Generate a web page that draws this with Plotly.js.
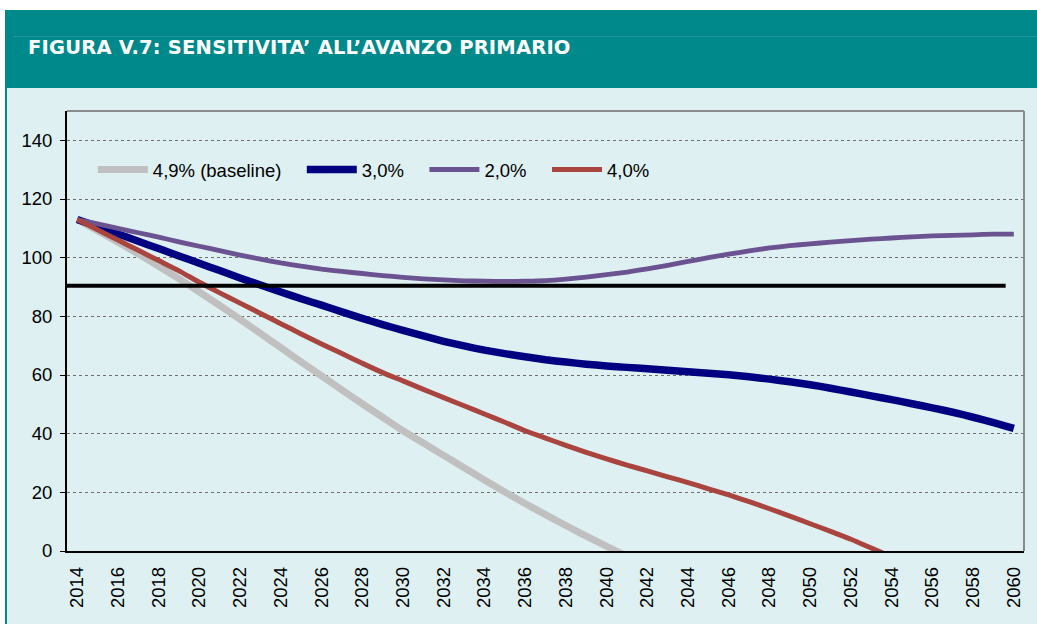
<!DOCTYPE html>
<html><head><meta charset="utf-8">
<script src="https://cdn.plot.ly/plotly-3.0.1.min.js"></script>
<style>
html,body{margin:0;padding:0;background:#fff;}
#wrap{position:relative;width:1037px;height:624px;overflow:hidden;background:#fff;}
#bg{position:absolute;left:5px;top:88px;width:1032px;height:536px;background:#DEF0F1;border-left:2px solid #00898B;box-sizing:border-box;}
#hdr{position:absolute;left:5px;top:10px;width:1032px;height:78px;background:#00898B;}
#hdrline{position:absolute;left:8px;top:26px;right:0;height:1px;background:rgba(255,255,255,0.12);}
#ttl{position:absolute;left:23px;top:27px;line-height:22px;color:#fff;font-family:'DejaVu Sans',sans-serif;font-weight:bold;font-size:19.5px;letter-spacing:0.2px;white-space:nowrap;}
#chart{position:absolute;left:0;top:0;width:1037px;height:624px;}
</style>
</head><body>
<div id="wrap">
  <div id="bg"></div>
  <div id="hdr"><div id="hdrline"></div><div id="ttl">FIGURA V.7: SENSITIVITA’ ALL’AVANZO PRIMARIO</div></div>
  <div id="chart"></div>
</div>
<script>
// ---- data ----
const years = [];
for (let y = 2014; y <= 2060; y++) years.push(y);

const seriesNames = ["4,9% (baseline)", "3,0%", "2,0%", "4,0%"];

const baseline49 = [113, 109.2, 105.3, 101.3, 97.1, 92.8, 88.3, 83.7, 79, 74.2,
  69.3, 64.5, 59.7, 54.9, 50.2, 45.6, 41, 36.8, 32.6, 28.4,
  24.2, 20.1, 16.2, 12.4, 8.7, 5.1, 1.6, -1.8];

const avanzo30 = [113, 110.6, 108.1, 105.6, 103.1, 100.6, 98.1, 95.6, 93.1, 90.7,
  88.3, 86, 83.8, 81.5, 79.3, 77.2, 75.2, 73.3, 71.5, 69.9,
  68.5, 67.3, 66.2, 65.2, 64.4, 63.7, 63.1, 62.6, 62.1, 61.6,
  61.1, 60.6, 60.1, 59.4, 58.6, 57.7, 56.7, 55.5, 54.2, 52.9,
  51.6, 50.2, 48.8, 47.3, 45.6, 43.8, 41.8];

const avanzo20 = [113, 111.5, 110, 108.5, 107, 105.4, 103.9, 102.4, 100.9, 99.5,
  98.2, 97.1, 96.1, 95.3, 94.6, 93.9, 93.3, 92.8, 92.4, 92.1,
  92, 91.9, 92, 92.2, 92.7, 93.4, 94.2, 95.1, 96.2, 97.4,
  98.7, 100, 101.2, 102.3, 103.3, 104.1, 104.7, 105.3, 105.8, 106.3,
  106.7, 107.1, 107.4, 107.6, 107.8, 108, 108];

const avanzo40 = [113, 109.5, 106, 102.5, 99, 95.5, 91.6, 88, 84.5, 81,
  77.5, 74, 70.6, 67.3, 64, 60.8, 58, 55.1, 52.3, 49.5,
  46.7, 43.9, 41, 38.5, 36, 33.6, 31.4, 29.3, 27.3, 25.3,
  23.3, 21.2, 19.1, 16.8, 14.4, 11.9, 9.3, 6.7, 4, 1, -2];

const soglia = 90.4;          // horizontal reference line value
const sogliaEndYear = 2059.6; // where the reference line stops

const yTicks = [0, 20, 40, 60, 80, 100, 120, 140];

// ---- styles ----
const colors = ["#C0C0C0", "#000080", "#6B5290", "#A9443F"];
const widths = [7, 7.5, 4.8, 5];
const allSeries = [baseline49, avanzo30, avanzo20, avanzo40];
const pad = "\u00A0\u00A0\u00A0";

const traces = allSeries.map((vals, i) => ({
  type: "scatter",
  mode: "lines",
  name: seriesNames[i] + (i < seriesNames.length - 1 ? pad : ""),
  x: years.slice(0, vals.length),
  y: vals,
  line: {color: colors[i], width: widths[i], shape: "spline", smoothing: 0.6},
  hoverinfo: "skip"
}));

const FONT = "Liberation Sans, Arial, sans-serif";

const layout = {
  width: 1037, height: 624,
  margin: {l: 67, r: 13, t: 111, b: 73, pad: 0},
  paper_bgcolor: "rgba(0,0,0,0)",
  plot_bgcolor: "rgba(0,0,0,0)",
  font: {family: FONT, color: "#000"},
  showlegend: true,
  legend: {
    orientation: "h", x: 0.027, y: 0.866, xanchor: "left", yanchor: "middle",
    bgcolor: "rgba(0,0,0,0)", font: {size: 18.5, family: FONT, color: "#000"},
    traceorder: "normal", itemwidth: 50
  },
  xaxis: {
    range: [2013.5, 2060.5],
    tickmode: "linear", tick0: 2014, dtick: 2,
    tickangle: -90,
    showgrid: false, zeroline: false,
    showline: true, linecolor: "#000", linewidth: 1.5,
    ticks: "", ticklabelstandoff: 7,
    tickfont: {size: 18.5, family: FONT, color: "#000"}
  },
  yaxis: {
    range: [0, 150],
    tickmode: "array", tickvals: yTicks, ticktext: yTicks.map(String),
    showgrid: true, gridcolor: "#6f6f6f", griddash: "dot", gridwidth: 1,
    zeroline: false,
    showline: true, linecolor: "#000", linewidth: 2,
    ticks: "outside", ticklen: 5, tickcolor: "#000", tickwidth: 1,
    ticklabelstandoff: 4,
    tickfont: {size: 18.5, family: FONT, color: "#000"}
  },
  shapes: [
    {type: "line", xref: "paper", yref: "paper", x0: 0, x1: 1, y0: 1, y1: 1, line: {color: "#8a8a8a", width: 2}},
    {type: "line", xref: "paper", yref: "paper", x0: 1, x1: 1, y0: 0, y1: 1, line: {color: "#8a8a8a", width: 2}},
    {type: "line", xref: "x", yref: "y", x0: 2013.5, x1: sogliaEndYear, y0: soglia, y1: soglia, layer: "above", line: {color: "#000", width: 4}}
  ]
};

Plotly.newPlot("chart", traces, layout, {staticPlot: true, displayModeBar: false});
</script>
</body></html>
